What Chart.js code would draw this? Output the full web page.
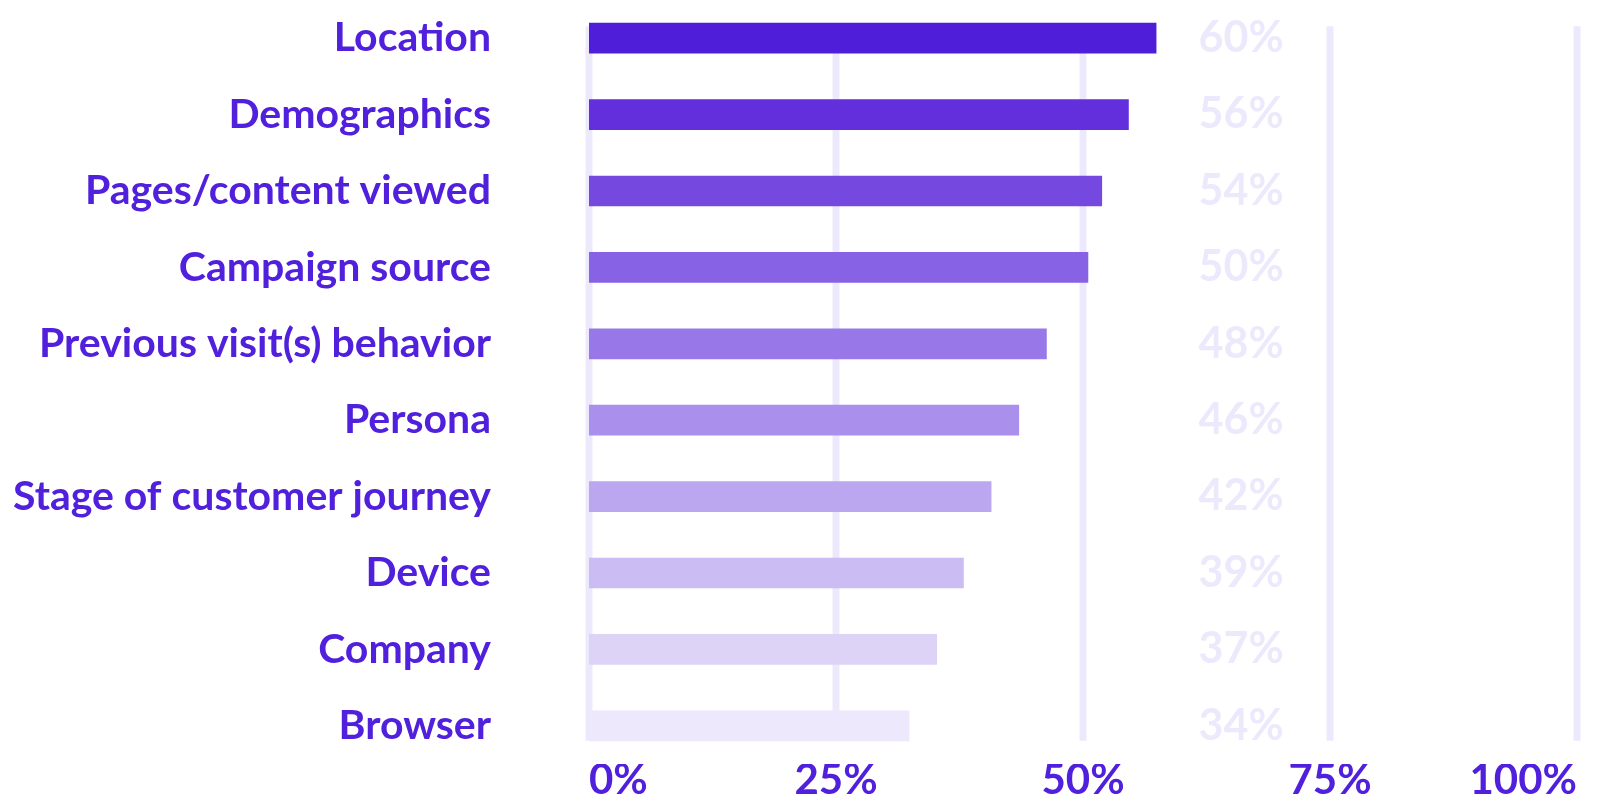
<!DOCTYPE html>
<html>
<head>
<meta charset="utf-8">
<script src="https://cdn.jsdelivr.net/npm/chart.js@4.4.1/dist/chart.umd.min.js"></script>
<style>
  html, body { margin: 0; padding: 0; background: #fff; }
  #wrap { width: 1601px; height: 796px; }
</style>
</head>
<body>
<div id="wrap"><canvas id="myChart" width="1601" height="796"></canvas></div>
<script>
const categories = ['Location', 'Demographics', 'Pages/content viewed', 'Campaign source',
  'Previous visit(s) behavior', 'Persona', 'Stage of customer journey', 'Device', 'Company', 'Browser']
// bar lengths as drawn (they do not quite match the printed figures)
const barValues = [57.4, 54.6, 51.9, 50.5, 46.3, 43.5, 40.7, 37.9, 35.2, 32.4]
const valueLabels = ['60%', '56%', '54%', '50%', '48%', '46%', '42%', '39%', '37%', '34%']
const xTicks = [0, 25, 50, 75, 100]
const barColors = ['#4f1ed9', '#632fdd', '#7548e0', '#8762e5', '#9878e9',
  '#aa8fed', '#bba6f0', '#cbbcf4', '#dcd3f7', '#ede8fb']

const purple = '#5020dc'
const lavender = '#ede9fc'
const fontFamily = 'Lato, "Open Sans", sans-serif'

// vertical grid lines, drawn behind bars, spanning only the bar rows
const gridPlugin = {
  id: 'barGrid',
  beforeDatasetsDraw(chart) {
    const { ctx, scales: { x, y } } = chart
    const top = y.getPixelForValue(0) - 12
    const bottom = y.getPixelForValue(categories.length - 1) + 15
    ctx.save()
    ctx.strokeStyle = lavender
    ctx.lineWidth = 7
    xTicks.forEach(v => {
      const px = x.getPixelForValue(v)
      ctx.beginPath()
      ctx.moveTo(px, top)
      ctx.lineTo(px, bottom)
      ctx.stroke()
    })
    ctx.restore()
  }
}

// the printed percentages sit in a column right of the bars
const valuePlugin = {
  id: 'valueLabels',
  afterDatasetsDraw(chart) {
    const { ctx, scales: { x, y } } = chart
    ctx.save()
    ctx.fillStyle = lavender
    ctx.font = 'bold 43px ' + fontFamily
    ctx.textAlign = 'left'
    ctx.textBaseline = 'middle'
    const lx = x.getPixelForValue(61.7)
    valueLabels.forEach((t, i) => {
      ctx.fillText(t, lx, y.getPixelForValue(i))
    })
    ctx.restore()
  }
}

const ctx = document.getElementById('myChart').getContext('2d')
new Chart(ctx, {
  type: 'bar',
  data: {
    labels: categories,
    datasets: [{
      data: barValues,
      backgroundColor: barColors,
      borderWidth: 0,
      barThickness: 30
    }]
  },
  options: {
    indexAxis: 'y',
    responsive: false,
    animation: false,
    layout: { padding: { top: 0, right: 24, bottom: 0, left: 0 } },
    plugins: {
      legend: { display: false },
      tooltip: { enabled: false }
    },
    scales: {
      x: {
        min: 0,
        max: 100,
        afterBuildTicks(scale) {
          scale.ticks = xTicks.map(v => ({ value: v }))
        },
        afterFit(scale) { scale.height = 32 },
        grid: { display: false },
        border: { display: false },
        ticks: {
          align: 'inner',
          padding: -17,
          color: purple,
          font: { family: fontFamily, size: 42, weight: 'bold' },
          callback: v => v + '%'
        }
      },
      y: {
        afterFit(scale) {
          scale.width = 589
          scale.paddingTop = 0
          scale.paddingBottom = 0
        },
        grid: { display: false },
        border: { display: false },
        ticks: {
          padding: 90,
          color: purple,
          font: { family: fontFamily, size: 41, weight: 'bold' }
        }
      }
    }
  },
  plugins: [gridPlugin, valuePlugin]
})
</script>
</body>
</html>
